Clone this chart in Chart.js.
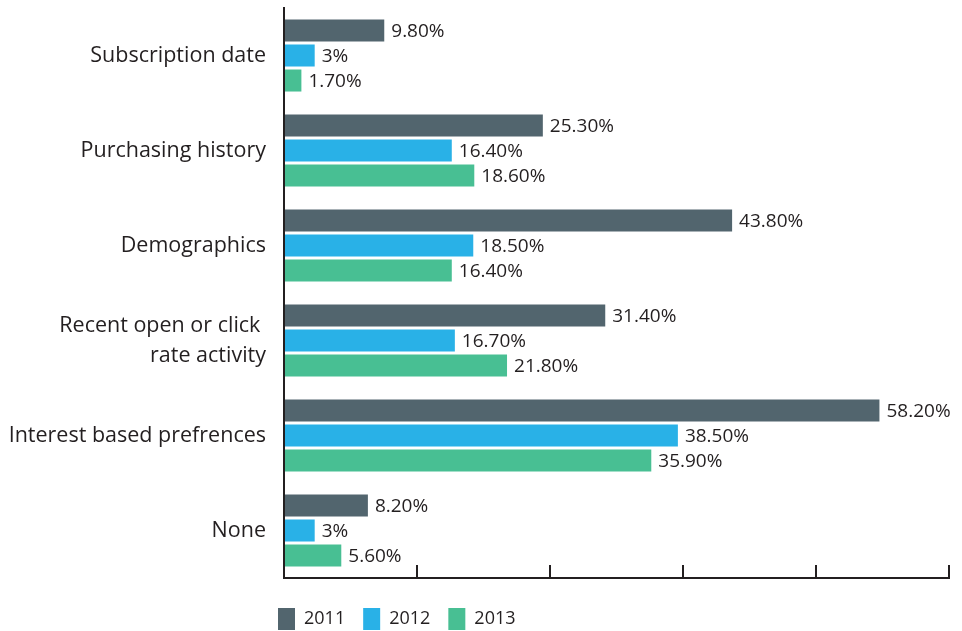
<!DOCTYPE html>
<html>
<head>
<meta charset="utf-8">
<script src="https://cdn.jsdelivr.net/npm/chart.js@4/dist/chart.umd.min.js"></script>
<style>
  html, body { margin: 0; padding: 0; background: #fff; }
  #wrap { width: 962px; height: 631px; }
</style>
</head>
<body>
<div id="wrap"><canvas id="segChart"></canvas></div>
<script>
const categories = [
  'Subscription date',
  'Purchasing history',
  'Demographics',
  ['Recent open or click ', 'rate activity'],
  'Interest based prefrences',
  'None'
];
const years = ['2011', '2012', '2013'];
const values2011 = [9.8, 25.3, 43.8, 31.4, 58.2, 8.2];
const values2012 = [3, 16.4, 18.5, 16.7, 38.5, 3];
const values2013 = [1.7, 18.6, 16.4, 21.8, 35.9, 5.6];
const colors = ['#52656e', '#29b1e7', '#48bf93'];

const ink = '#231f20';

const fmt = v => (v % 1 === 0 ? v : v.toFixed(2)) + '%';

// value labels at the end of every bar
const barLabels = {
  id: 'barLabels',
  afterDatasetsDraw(chart) {
    const ctx = chart.ctx;
    ctx.save();
    ctx.font = '19px "Open Sans"';
    ctx.fillStyle = ink;
    ctx.textAlign = 'left';
    ctx.textBaseline = 'middle';
    chart.data.datasets.forEach((ds, i) => {
      chart.getDatasetMeta(i).data.forEach((bar, j) => {
        ctx.fillText(fmt(ds.data[j]), bar.x + 7, bar.y + 1);
      });
    });
    ctx.restore();
  }
};

// legend sits under the plot, a little left of the y axis
const legendShift = {
  id: 'legendShift',
  afterLayout(chart) {
    chart.legend.left = chart.chartArea.left - 24;
  }
};

new Chart(document.getElementById('segChart'), {
  type: 'bar',
  data: {
    labels: categories,
    datasets: [values2011, values2012, values2013].map((d, i) => ({
      label: years[i],
      data: d,
      backgroundColor: colors[i],
      categoryPercentage: 0.79,
      barPercentage: 0.88
    }))
  },
  options: {
    indexAxis: 'y',
    responsive: true,
    maintainAspectRatio: false,
    animation: false,
    layout: { padding: { left: 0, right: 13, top: 8, bottom: -9 } },
    scales: {
      x: {
        min: 0,
        max: 65,
        ticks: { display: false, stepSize: 13 },
        grid: {
          display: true,
          drawOnChartArea: false,
          drawTicks: true,
          tickLength: -13,
          color: ink,
          lineWidth: 2
        },
        border: { display: true, color: ink, width: 2 },
        afterFit: s => { s.height = 12; s.paddingLeft = 0; s.paddingRight = 0; }
      },
      y: {
        ticks: {
          color: ink,
          padding: 18,
          font: { family: '"Open Sans"', size: 21.5, lineHeight: 1.4 }
        },
        grid: { display: false, drawTicks: false },
        border: { display: true, color: ink, width: 2 },
        afterFit: s => { s.width = 284; s.paddingTop = 0; s.paddingBottom = 0; }
      }
    },
    plugins: {
      legend: {
        position: 'bottom',
        align: 'start',
        fullSize: false,
        labels: {
          boxWidth: 17,
          boxHeight: 22,
          padding: 18,
          color: ink,
          font: { family: '"Open Sans"', size: 18 }
        }
      },
      tooltip: { enabled: false }
    }
  },
  plugins: [barLabels, legendShift]
});
</script>
</body>
</html>
